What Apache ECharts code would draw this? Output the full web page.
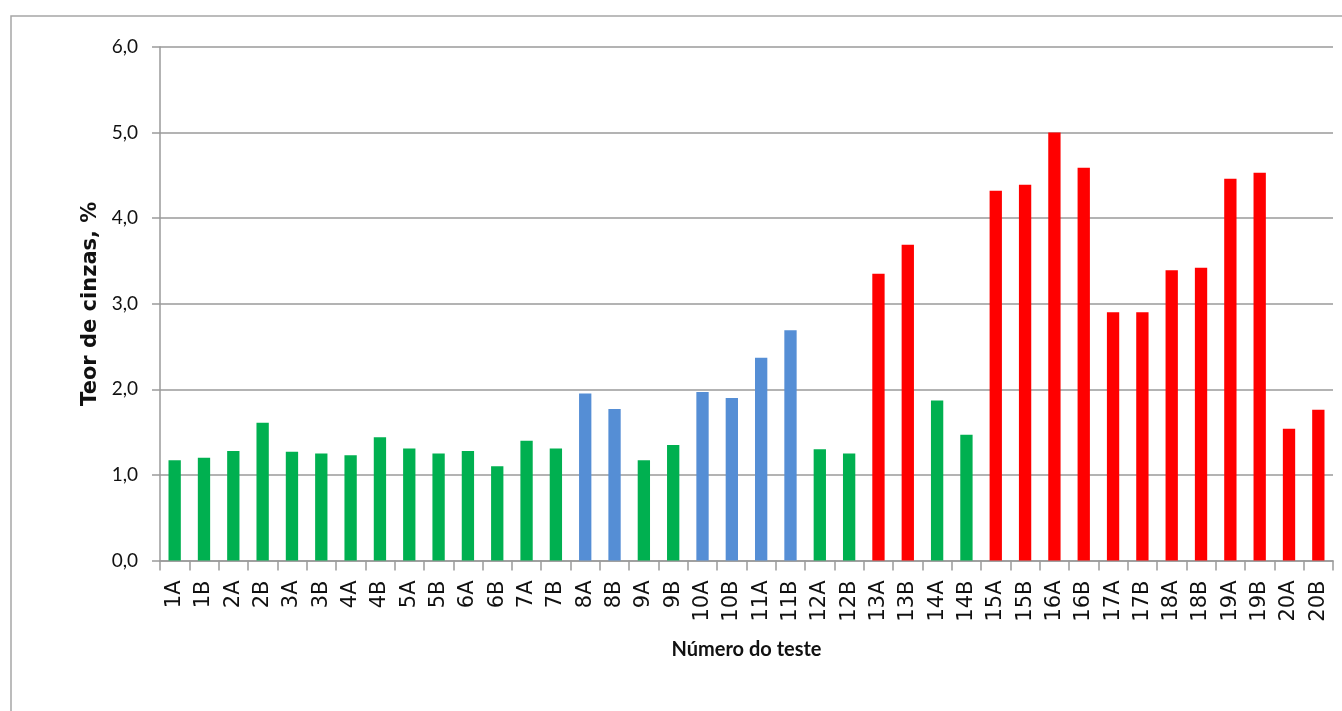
<!DOCTYPE html>
<html>
<head>
<meta charset="utf-8">
<script src="https://cdn.jsdelivr.net/npm/echarts@6/dist/echarts.min.js"></script>
<style>
  html, body { margin: 0; padding: 0; background: #fff; }
  #chart { width: 1342px; height: 711px; }
</style>
</head>
<body>
<div id="chart"></div>
<script>
// Test identifiers along the x axis
const categories = [
  '1A','1B','2A','2B','3A','3B','4A','4B','5A','5B',
  '6A','6B','7A','7B','8A','8B','9A','9B','10A','10B',
  '11A','11B','12A','12B','13A','13B','14A','14B','15A','15B',
  '16A','16B','17A','17B','18A','18B','19A','19B','20A','20B'
];

// Ash content per test, %
const ashContent = [
  1.17, 1.20, 1.28, 1.61, 1.27, 1.25, 1.23, 1.44, 1.31, 1.25,
  1.28, 1.10, 1.40, 1.31, 1.95, 1.77, 1.17, 1.35, 1.97, 1.90,
  2.37, 2.69, 1.30, 1.25, 3.35, 3.69, 1.87, 1.47, 4.32, 4.39,
  5.00, 4.59, 2.90, 2.90, 3.39, 3.42, 4.46, 4.53, 1.54, 1.76
];

// Group of each test (g = green, b = blue, r = red)
const testGroup = [
  'g','g','g','g','g','g','g','g','g','g',
  'g','g','g','g','b','b','g','g','b','b',
  'b','b','g','g','r','r','g','g','r','r',
  'r','r','r','r','r','r','r','r','r','r'
];

const yTicks = [0, 1, 2, 3, 4, 5, 6];

const groupColors = { g: '#00B050', b: '#558ED5', r: '#FF0000' };

const chart = echarts.init(document.getElementById('chart'), null, { renderer: 'canvas' });

chart.setOption({
  animation: false,
  backgroundColor: '#ffffff',
  graphic: [{
    // outer chart frame (only top and left edges fall inside the view)
    type: 'rect',
    shape: { x: 11, y: 16, width: 1400, height: 800 },
    style: { fill: 'none', stroke: '#a6a6a6', lineWidth: 1.5 },
    silent: true,
    z: -1
  }],
  grid: { left: 160, right: 9, top: 47, bottom: 150.5, containLabel: false },
  xAxis: {
    type: 'category',
    data: categories,
    name: 'Número do teste',
    nameLocation: 'middle',
    nameGap: 79,
    nameTextStyle: { fontFamily: 'Lato', fontWeight: 'bold', fontSize: 20, color: '#111' },
    axisLine: { lineStyle: { color: '#9a9a9a', width: 1.5 } },
    axisTick: { show: true, alignWithLabel: false, length: 10, lineStyle: { color: '#9a9a9a', width: 1.5 } },
    axisLabel: {
      interval: 0,
      rotate: 90,
      margin: 20,
      fontFamily: '"DejaVu Sans", Verdana, sans-serif',
      fontSize: 21,
      color: '#111'
    }
  },
  yAxis: {
    type: 'value',
    min: yTicks[0],
    max: yTicks[yTicks.length - 1],
    interval: 1,
    name: 'Teor de cinzas, %',
    nameLocation: 'middle',
    nameGap: 53,
    nameRotate: 90,
    nameTextStyle: { fontFamily: '"DejaVu Sans", Verdana, sans-serif', fontWeight: 'bold', fontSize: 21, color: '#111' },
    axisLine: { show: true, lineStyle: { color: '#9a9a9a', width: 1.5 } },
    axisTick: { show: true, length: 8, lineStyle: { color: '#9a9a9a', width: 1.5 } },
    splitLine: { show: true, lineStyle: { color: '#9a9a9a', width: 1.5 } },
    axisLabel: {
      margin: 22,
      fontFamily: 'Lato',
      fontSize: 19,
      color: '#111',
      formatter: v => v.toFixed(1).replace('.', ',')
    }
  },
  series: [{
    type: 'bar',
    barWidth: '42%',
    data: ashContent.map((v, i) => ({
      value: v,
      itemStyle: { color: groupColors[testGroup[i]] }
    }))
  }]
});
</script>
</body>
</html>
